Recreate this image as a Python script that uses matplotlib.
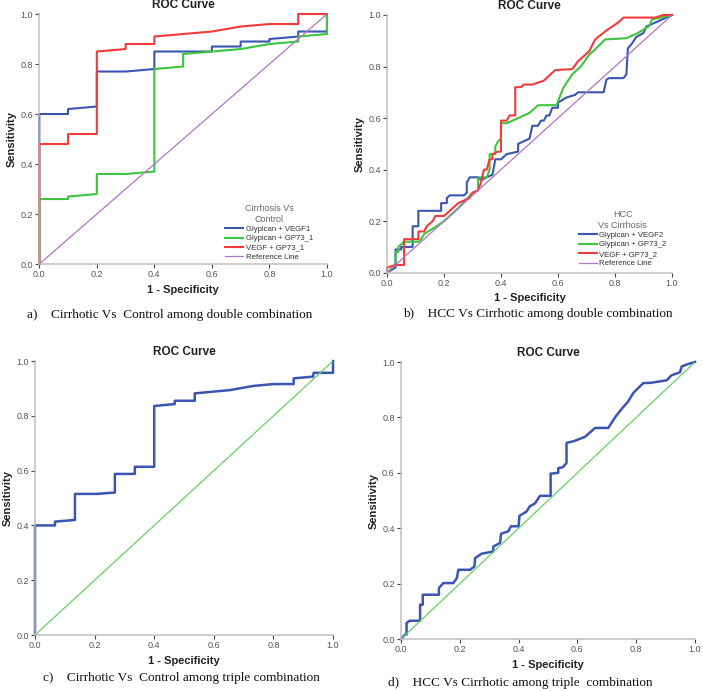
import matplotlib
matplotlib.use("Agg")
import matplotlib.pyplot as plt

plt.rcParams['font.family'] = ['Liberation Sans', 'DejaVu Sans']

# ---- panel a: Cirrhosis Vs Control, double combination ----
a_blue_x = [0, 0, 0.1, 0.1, 0.2, 0.2, 0.3, 0.4, 0.4, 0.6, 0.6, 0.7, 0.7, 0.8, 0.8, 0.9, 0.9, 1.0, 1.0]
a_blue_y = [0, 0.60, 0.60, 0.62, 0.63, 0.77, 0.77, 0.78, 0.85, 0.85, 0.87, 0.87, 0.89, 0.89, 0.90, 0.91, 0.93, 0.93, 1.0]
a_green_x = [0, 0, 0.1, 0.1, 0.2, 0.2, 0.3, 0.4, 0.4, 0.5, 0.5, 0.6, 0.7, 0.8, 0.9, 0.9, 1.0, 1.0]
a_green_y = [0, 0.26, 0.26, 0.27, 0.28, 0.36, 0.36, 0.37, 0.78, 0.79, 0.84, 0.85, 0.86, 0.88, 0.89, 0.91, 0.92, 1.0]
a_red_x = [0, 0, 0.1, 0.1, 0.2, 0.2, 0.3, 0.3, 0.4, 0.4, 0.6, 0.7, 0.8, 0.9, 0.9, 1.0]
a_red_y = [0, 0.48, 0.48, 0.52, 0.52, 0.85, 0.86, 0.88, 0.88, 0.91, 0.93, 0.95, 0.96, 0.96, 1.0, 1.0]
a_labels = ['Glypican + VEGF1', 'Glypican + GP73_1', 'VEGF + GP73_1', 'Reference Line']

# ---- panel b: HCC Vs Cirrhosis, double combination ----
b_blue_x = [0, 0.03, 0.03, 0.05, 0.05, 0.09, 0.09, 0.11, 0.11, 0.19, 0.19, 0.21, 0.21, 0.22, 0.27,
            0.28, 0.28, 0.29, 0.32, 0.33, 0.35, 0.37, 0.38, 0.40, 0.41, 0.42, 0.46, 0.46, 0.48, 0.50,
            0.51, 0.53, 0.54, 0.55, 0.56, 0.57, 0.58, 0.60, 0.60, 0.63, 0.66, 0.67, 0.76, 0.77, 0.78,
            0.83, 0.84, 0.845, 0.86, 0.875, 0.90, 0.91, 0.92, 0.96, 1.0]
b_blue_y = [0, 0.02, 0.09, 0.09, 0.10, 0.10, 0.18, 0.18, 0.24, 0.24, 0.27, 0.27, 0.29, 0.30, 0.30,
            0.31, 0.35, 0.37, 0.37, 0.36, 0.37, 0.38, 0.44, 0.44, 0.45, 0.46, 0.47, 0.50, 0.51, 0.52,
            0.57, 0.57, 0.59, 0.59, 0.61, 0.61, 0.64, 0.64, 0.66, 0.68, 0.69, 0.70, 0.70, 0.75, 0.755,
            0.755, 0.77, 0.87, 0.89, 0.915, 0.93, 0.955, 0.96, 0.98, 1.0]
b_green_x = [0, 0.02, 0.03, 0.03, 0.04, 0.04, 0.05, 0.06, 0.11, 0.12, 0.13, 0.16, 0.20, 0.25, 0.30,
             0.32, 0.32, 0.35, 0.36, 0.36, 0.38, 0.38, 0.39, 0.40, 0.40, 0.42, 0.44, 0.46, 0.50, 0.53,
             0.595, 0.607, 0.62, 0.65, 0.68, 0.71, 0.73, 0.765, 0.84, 0.88, 0.92, 0.93, 0.96, 1.0]
b_green_y = [0, 0.02, 0.03, 0.08, 0.08, 0.10, 0.11, 0.12, 0.12, 0.13, 0.15, 0.17, 0.20, 0.25, 0.31,
             0.32, 0.37, 0.37, 0.40, 0.46, 0.46, 0.49, 0.51, 0.52, 0.58, 0.58, 0.59, 0.60, 0.62, 0.65,
             0.65, 0.685, 0.72, 0.77, 0.80, 0.847, 0.866, 0.905, 0.91, 0.93, 0.957, 0.983, 0.99, 1.0]
b_red_x = [0, 0, 0.03, 0.06, 0.06, 0.11, 0.11, 0.13, 0.14, 0.16, 0.17, 0.20, 0.22, 0.24, 0.25, 0.27,
           0.29, 0.30, 0.32, 0.33, 0.34, 0.35, 0.36, 0.37, 0.37, 0.39, 0.40, 0.40, 0.42, 0.43, 0.45,
           0.45, 0.47, 0.48, 0.51, 0.55, 0.59, 0.65, 0.67, 0.71, 0.73, 0.77, 0.81, 0.83, 0.94, 0.97, 1.0]
b_red_y = [0, 0.02, 0.03, 0.03, 0.13, 0.13, 0.16, 0.16, 0.18, 0.20, 0.22, 0.22, 0.24, 0.26, 0.27, 0.28,
           0.29, 0.31, 0.32, 0.35, 0.40, 0.40, 0.44, 0.44, 0.46, 0.47, 0.47, 0.59, 0.59, 0.61, 0.61,
           0.72, 0.72, 0.73, 0.73, 0.745, 0.786, 0.79, 0.82, 0.86, 0.905, 0.94, 0.97, 0.99, 0.99, 1.0, 1.0]
b_labels = ['Glypican + VEGF2', 'Glypican + GP73_2', 'VEGF + GP73_2', 'Reference Line']

# ---- panel c: Cirrhosis Vs Control, triple combination ----
c_x = [0, 0, 0.067, 0.067, 0.134, 0.134, 0.207, 0.268, 0.268, 0.335, 0.335, 0.40, 0.40, 0.469,
       0.469, 0.536, 0.536, 0.654, 0.732, 0.80, 0.868, 0.868, 0.933, 0.935, 1.0, 1.0]
c_y = [0, 0.40, 0.40, 0.414, 0.42, 0.515, 0.515, 0.52, 0.588, 0.588, 0.614, 0.614, 0.836, 0.843,
       0.855, 0.855, 0.882, 0.894, 0.909, 0.916, 0.916, 0.937, 0.943, 0.957, 0.957, 1.0]

# ---- panel d: HCC Vs Cirrhosis, triple combination ----
d_x = [0, 0.014, 0.019, 0.019, 0.03, 0.065, 0.065, 0.074, 0.074, 0.129, 0.129, 0.144, 0.178, 0.19,
       0.195, 0.235, 0.25, 0.252, 0.274, 0.314, 0.314, 0.337, 0.34, 0.365, 0.374, 0.40, 0.403, 0.427,
       0.438, 0.456, 0.473, 0.509, 0.509, 0.535, 0.535, 0.55, 0.563, 0.563, 0.59, 0.626, 0.66, 0.705,
       0.728, 0.75, 0.773, 0.79, 0.824, 0.85, 0.904, 0.92, 0.949, 0.955, 0.977, 1.0]
d_y = [0, 0.016, 0.016, 0.058, 0.066, 0.066, 0.124, 0.124, 0.16, 0.16, 0.184, 0.202, 0.202, 0.22,
       0.25, 0.25, 0.262, 0.292, 0.308, 0.316, 0.334, 0.347, 0.38, 0.389, 0.407, 0.407, 0.445, 0.46,
       0.479, 0.49, 0.517, 0.517, 0.597, 0.60, 0.617, 0.62, 0.635, 0.708, 0.715, 0.73, 0.762, 0.762,
       0.80, 0.83, 0.858, 0.888, 0.924, 0.925, 0.934, 0.952, 0.963, 0.984, 0.993, 1.0]

captions = ['a)    Cirrhotic Vs  Control among double combination',
            'b)    HCC Vs Cirrhotic among double combination',
            'c)    Cirrhotic Vs  Control among triple combination',
            'd)    HCC Vs Cirrhotic among triple  combination']

BLUE = '#3b55b2'
GREEN = '#3ec43e'
RED = '#f23b3b'
PURPLE = '#b274c6'
REFGREEN = '#66d166'

fig = plt.figure(figsize=(7.03, 6.91), dpi=100)

def style(ax):
    ax.set_xlim(0, 1)
    ax.set_ylim(0, 1)
    ticks = [0, 0.2, 0.4, 0.6, 0.8, 1.0]
    ax.set_xticks(ticks)
    ax.set_yticks(ticks)
    ax.set_xticklabels(['%.1f' % t for t in ticks])
    ax.set_yticklabels(['%.1f' % t for t in ticks])
    for s in ['top', 'right']:
        ax.spines[s].set_visible(False)
    for s in ['left', 'bottom']:
        ax.spines[s].set_color((0.72, 0.72, 0.72, 0.75))
        ax.spines[s].set_linewidth(1.3)
    ax.tick_params(direction='out', length=3, width=0.8, color='#444444',
                   labelsize=6.5, labelcolor='#555555', pad=1.5)
    ax.set_title('ROC Curve', fontsize=8.5, fontweight='bold', color='#222222', pad=4)
    ax.set_xlabel('1 - Specificity', fontsize=8, fontweight='bold', color='#222222', labelpad=4)
    ax.set_ylabel('Sensitivity', fontsize=8, fontweight='bold', color='#222222', labelpad=2.5)

def legend(ax, title, anchor):
    leg = ax.legend(loc='lower right', bbox_to_anchor=anchor, frameon=False, fontsize=5.6,
                    title=title, title_fontsize=6.5, handlelength=2.3, handletextpad=0.3,
                    labelspacing=0.25, borderpad=0.2)
    leg.get_title().set_color('#666666')
    leg.get_title().set_multialignment('center')
    for t in leg.get_texts():
        t.set_color('#333333')

# panel a
ax = fig.add_axes([0.0559, 0.6179, 0.4092, 0.3618])
ax.plot(a_blue_x, a_blue_y, color=BLUE, lw=1.5, label=a_labels[0], clip_on=False)
ax.plot(a_green_x, a_green_y, color=GREEN, lw=1.5, label=a_labels[1], clip_on=False)
ax.plot(a_red_x, a_red_y, color=RED, lw=1.5, label=a_labels[2], clip_on=False)
ax.plot([0, 1], [0, 1], color=PURPLE, lw=0.9, label=a_labels[3])
style(ax)
legend(ax, 'Cirrhosis Vs\nControl', (0.97, -0.01))

# panel b
ax = fig.add_axes([0.5505, 0.6054, 0.4054, 0.3729])
ax.plot(b_blue_x, b_blue_y, color=BLUE, lw=1.5, label=b_labels[0], clip_on=False)
ax.plot(b_green_x, b_green_y, color=GREEN, lw=1.5, label=b_labels[1], clip_on=False)
ax.plot(b_red_x, b_red_y, color=RED, lw=1.5, label=b_labels[2], clip_on=False)
ax.plot([0, 1], [0, 1], color=PURPLE, lw=0.9, label=b_labels[3])
style(ax)
legend(ax, 'HCC\nVs Cirrhosis', (1.0, 0.0))

# panel c
ax = fig.add_axes([0.0498, 0.0810, 0.4239, 0.3965])
ax.plot(c_x, c_y, color=BLUE, lw=1.8, clip_on=False)
ax.plot([0, 1], [0, 1], color=REFGREEN, lw=0.9)
style(ax)

# panel d
ax = fig.add_axes([0.5704, 0.0752, 0.4182, 0.4009])
ax.plot(d_x, d_y, color=BLUE, lw=1.8, clip_on=False)
ax.plot([0, 1], [0, 1], color=REFGREEN, lw=0.9)
style(ax)

cap_pos = [(27, 315), (403, 314), (43, 678), (388, 683)]
for (px, py), txt in zip(cap_pos, captions):
    fig.text(px / 703, 1 - py / 691, txt, fontsize=9.5, family='Liberation Serif',
             ha='left', va='center', color='#111111')

fig.savefig('out.png', dpi=100)
